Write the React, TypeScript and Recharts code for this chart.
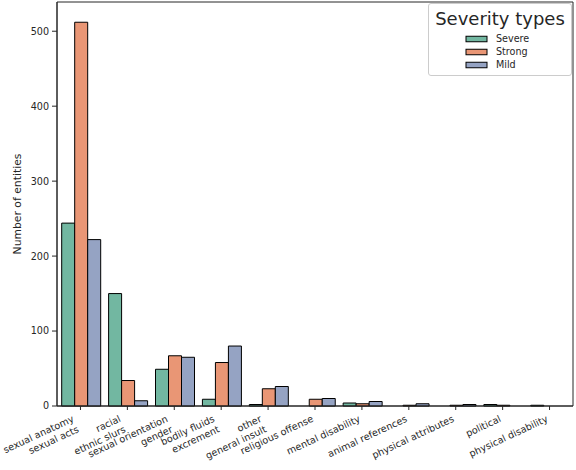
import { BarChart, Bar, XAxis, YAxis, Legend, ReferenceArea } from "recharts";

// categories, two-line labels split on "\n"
const CATEGORIES = [
  "sexual anatomy\nsexual acts",
  "racial\nethnic slurs",
  "sexual orientation\ngender",
  "bodily fluids\nexcrement",
  "other\ngeneral insult",
  "religious offense",
  "mental disability",
  "animal references",
  "physical attributes",
  "political",
  "physical disability",
];

const SEVERE = [244, 150, 49, 9, 2, 0, 4, 0, 0, 2, 1];
const STRONG = [512, 34, 67, 58, 23, 9, 3, 1, 1, 1, 0];
const MILD = [222, 7, 65, 80, 26, 10, 6, 3, 2, 0, 0];

const Y_TICKS = [0, 100, 200, 300, 400, 500];

const SERIES = [
  { key: "Severe", color: "#72b7a1" },
  { key: "Strong", color: "#e99675" },
  { key: "Mild", color: "#95a3c3" },
];

const data = CATEGORIES.map((name, i) => ({
  name,
  Severe: SEVERE[i],
  Strong: STRONG[i],
  Mild: MILD[i],
}));

const INK = "#262626";
const FONT = "DejaVu Sans";
const TICK_FS = 9.6;

function XTick(props: any) {
  const { x, y, payload } = props;
  const lines = String(payload.value).split("\n");
  const lh = TICK_FS * 1.2;
  const h = (lines.length - 1) * lh + TICK_FS * 1.17;
  const rad = (25 * Math.PI) / 180;
  const dx = -h * Math.sin(rad);
  return (
    <g transform={`translate(${x + dx},${y}) rotate(-25)`}>
      {lines.map((l, i) => (
        <text
          key={i}
          x={0}
          y={TICK_FS * 0.93 + i * lh}
          textAnchor="end"
          fontSize={TICK_FS}
          fontFamily={FONT}
          fill={INK}
        >
          {l}
        </text>
      ))}
    </g>
  );
}

function LegendBox() {
  return (
    <svg width={144} height={73} style={{ display: "block" }}>
      <rect x={0.5} y={0.5} width={143} height={72} rx={2.5} fill="#fff" fillOpacity={0.8} stroke="#cccccc" />
      <text x={72} y={21.5} textAnchor="middle" fontSize={18} fontFamily={FONT} fill={INK}>
        Severity types
      </text>
      {SERIES.map((s, i) => {
        const cy = 36 + i * 13;
        return (
          <g key={s.key}>
            <rect x={38} y={cy - 2.75} width={21} height={5.5} fill={s.color} stroke="#000" strokeWidth={1} />
            <text x={68} y={cy + 3.4} fontSize={TICK_FS} fontFamily={FONT} fill={INK}>
              {s.key}
            </text>
          </g>
        );
      })}
    </svg>
  );
}

export default function App() {
  return (
    <div>
      <style>{`body{margin:0}`}</style>
      <BarChart
        width={576}
        height={470}
        data={data}
        margin={{ top: 2, right: 3, bottom: 0, left: 0 }}
        barCategoryGap="10%"
        barGap={0}
      >
        <XAxis
          dataKey="name"
          height={64}
          interval={0}
          tick={<XTick />}
          tickSize={4}
          tickMargin={3}
          axisLine={{ stroke: INK }}
          tickLine={{ stroke: INK }}
        />
        <YAxis
          width={57}
          domain={[0, 539]}
          ticks={Y_TICKS}
          tickSize={5}
          tickMargin={3}
          axisLine={{ stroke: INK }}
          tickLine={{ stroke: INK }}
          tick={{ fontSize: TICK_FS, fontFamily: FONT, fill: INK }}
          label={{
            content: (p: any) => {
              const vb = p.viewBox;
              const cx = vb.x + 17.5;
              const cy = vb.y + vb.height / 2;
              return (
                <text
                  transform={`translate(${cx},${cy}) rotate(-90)`}
                  textAnchor="middle"
                  dominantBaseline="central"
                  fontSize={10.8}
                  fontFamily={FONT}
                  fill={INK}
                >
                  Number of entities
                </text>
              );
            },
          }}
        />
        <ReferenceArea y1={0} y2={539} fill="none" stroke={INK} strokeWidth={1} ifOverflow="visible" />
        {SERIES.map((s) => (
          <Bar key={s.key} dataKey={s.key} fill={s.color} stroke="#000" strokeWidth={1} isAnimationActive={false} />
        ))}
        <Legend
          layout="vertical"
          align="center"
          verticalAlign="middle"
          wrapperStyle={{ left: 428, top: 3, width: 144, height: 73 }}
          content={() => <LegendBox />}
        />
      </BarChart>
    </div>
  );
}
